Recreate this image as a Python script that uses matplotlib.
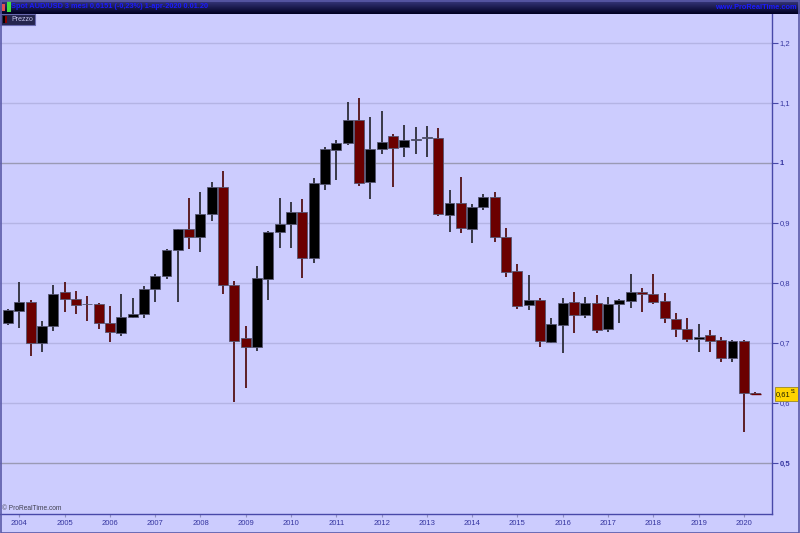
import numpy as np
import pandas as pd
import matplotlib
matplotlib.use("Agg")
import matplotlib.pyplot as plt
from matplotlib.patches import Rectangle

# quarterly candles, 2003Q4 .. 2020Q2
quarters = pd.period_range("2003Q4", "2020Q2", freq="Q")

opens = [0.733, 0.754, 0.769, 0.6995, 0.728, 0.785, 0.774, 0.7655, 0.7645, 0.734,
         0.717, 0.744, 0.748, 0.7895, 0.812, 0.855, 0.8895, 0.877, 0.915, 0.9595,
         0.796, 0.708, 0.693, 0.807, 0.885, 0.899, 0.918, 0.842, 0.9655, 1.0217,
         1.034, 1.0717, 0.968, 1.0228, 1.045, 1.027, 1.039, 1.041, 1.0417, 0.9128,
         0.933, 0.8895, 0.927, 0.944, 0.876, 0.820, 0.7628, 0.772, 0.701, 0.7295,
         0.768, 0.746, 0.7672, 0.7233, 0.7645, 0.7705, 0.7855, 0.782, 0.7705, 0.7405,
         0.7238, 0.7072, 0.7133, 0.705, 0.6755, 0.7033, 0.6166]
highs = [0.757, 0.802, 0.772, 0.737, 0.797, 0.801, 0.787, 0.778, 0.767, 0.762,
         0.782, 0.7745, 0.795, 0.815, 0.856, 0.890, 0.941, 0.951, 0.968, 0.987,
         0.804, 0.729, 0.828, 0.887, 0.942, 0.9345, 0.940, 0.9745, 1.026, 1.038,
         1.101, 1.108, 1.076, 1.086, 1.048, 1.063, 1.0595, 1.0617, 1.059, 0.955,
         0.976, 0.9317, 0.948, 0.951, 0.891, 0.831, 0.8128, 0.7755, 0.741, 0.7745,
         0.7845, 0.777, 0.780, 0.7762, 0.7733, 0.8145, 0.791, 0.8155, 0.783, 0.7495,
         0.741, 0.731, 0.7217, 0.7095, 0.705, 0.705, 0.6175]
lows = [0.730, 0.7255, 0.679, 0.6855, 0.720, 0.751, 0.748, 0.737, 0.724, 0.702,
        0.712, 0.741, 0.742, 0.769, 0.807, 0.769, 0.856, 0.852, 0.904, 0.781,
        0.602, 0.6255, 0.687, 0.772, 0.858, 0.858, 0.808, 0.833, 0.955, 0.972,
        1.0295, 0.962, 0.9395, 1.0145, 0.9595, 1.0105, 1.0145, 1.0105, 0.9117, 0.8855,
        0.883, 0.867, 0.922, 0.869, 0.8105, 0.757, 0.755, 0.693, 0.700, 0.684,
        0.716, 0.741, 0.7172, 0.7178, 0.734, 0.758, 0.751, 0.7655, 0.734, 0.7095,
        0.702, 0.6845, 0.6845, 0.669, 0.668, 0.552, 0.6145]
closes = [0.755, 0.769, 0.6995, 0.728, 0.782, 0.774, 0.763, 0.7645, 0.734, 0.718,
          0.744, 0.748, 0.7895, 0.812, 0.855, 0.8895, 0.877, 0.915, 0.9595, 0.796,
          0.704, 0.693, 0.808, 0.8855, 0.898, 0.918, 0.842, 0.966, 1.0228, 1.034,
          1.0717, 0.967, 1.024, 1.035, 1.0245, 1.038, 1.040, 1.043, 0.915, 0.933,
          0.891, 0.927, 0.944, 0.876, 0.818, 0.762, 0.772, 0.704, 0.731, 0.767,
          0.746, 0.767, 0.7212, 0.7645, 0.7712, 0.785, 0.781, 0.769, 0.741, 0.7238,
          0.706, 0.7105, 0.704, 0.6755, 0.7033, 0.6166, 0.6151]

last_price = 0.6151

BG = "#ccccfe"
AXC = "#4848a8"
TXT = "#3535a0"
UP = "#000000"
DOWN = "#6b0000"

W, H = 800, 533
fig = plt.figure(figsize=(8, 5.33), dpi=100, facecolor=BG)

# plot area in pixels: x 0..772, y 14..514
ax = fig.add_axes([0.0, 1 - 514 / H, 772 / W, 500 / H], facecolor=BG)

x = np.arange(len(quarters))
o = np.array(opens)
c = np.array(closes)
up = c >= o
colors = np.where(up, UP, DOWN)
wick_cols = np.where(up, "#202028", "#4a0000")

ax.vlines(x, lows, highs, colors=wick_cols, linewidth=1.2, zorder=3)
body_lo = np.minimum(o, c)
body_h = np.maximum(np.abs(c - o), 0.0012)
ax.bar(x, body_h, bottom=body_lo, width=0.88, color=colors,
       edgecolor="#555570", linewidth=0.6, zorder=4)

ax.set_xlim(-0.71, 67.49)
ax.set_ylim(0.415, 1.2483)

# grid
for lv in np.arange(0.5, 1.25, 0.1):
    major = abs(lv - 1.0) < 1e-6 or abs(lv - 0.5) < 1e-6
    ax.axhline(lv, color="#9a9ab4" if major else "#b4b4e4",
               linewidth=1.0, zorder=1)

yt = [0.5, 0.6, 0.7, 0.8, 0.9, 1.0, 1.1, 1.2]
ylabels = ["0,5", "0,6", "0,7", "0,8", "0,9", "1", "1,1", "1,2"]
ax.yaxis.tick_right()
ax.set_yticks(yt)
ax.set_yticklabels(ylabels)
for lab, v in zip(ax.get_yticklabels(), yt):
    if v in (0.5, 1.0):
        lab.set_fontweight("bold")
ax.tick_params(axis="y", direction="out", length=4, width=0.8, color=AXC,
               labelsize=5.5, labelcolor=TXT, pad=1.5)

year_idx = [i for i, q in enumerate(quarters) if q.quarter == 1]
ax.set_xticks(year_idx)
ax.set_xticklabels([str(quarters[i].year) for i in year_idx])
ax.tick_params(axis="x", direction="out", length=2, width=0.8, color="#9090c0",
               labelsize=5.5, labelcolor=TXT, pad=2)
for lab in ax.get_xticklabels() + ax.get_yticklabels():
    lab.set_family("Liberation Sans")

for s in ["top", "left"]:
    ax.spines[s].set_visible(False)
for s in ["right", "bottom"]:
    ax.spines[s].set_color(AXC)
    ax.spines[s].set_linewidth(1.0)

# last price marker
ax.hlines(last_price, 65.6, 66.5, colors=DOWN, linewidth=1.0, zorder=5)
ytr = ax.get_yaxis_transform()
ax.add_patch(Rectangle((775 / 772, last_price - 0.0115), 23 / 772, 0.023,
                       transform=ytr, fc="#ffd400", ec="#9a8a20", lw=0.6,
                       zorder=6, clip_on=False))
ax.text(775.5 / 772, last_price - 0.001, "0,61", transform=ytr,
        fontsize=5.4, family="Liberation Sans", color="#202000", va="center", ha="left",
        zorder=7, clip_on=False)
ax.text(790.3 / 772, last_price + 0.0045, "51", transform=ytr,
        fontsize=3.3, family="Liberation Sans", color="#202000", va="center", ha="left",
        zorder=7, clip_on=False)

# title bar with gradient
tb = fig.add_axes([0, 1 - 14 / H, 1, 14 / H])
grad = np.linspace(0, 1, 20).reshape(-1, 1)
top_c = np.array([0x3a, 0x3a, 0x80]) / 255
bot_c = np.array([0x00, 0x00, 0x22]) / 255
img = (top_c[None, None, :] * (1 - grad[:, :, None]) + bot_c[None, None, :] * grad[:, :, None])
tb.imshow(np.repeat(img, 2, axis=1), aspect="auto", extent=[0, 1, 0, 1])
tb.set_axis_off()
tb.text(11 / W, 0.5, "Spot AUD/USD 3 mesi 0,6151 (-0,23%) 1-apr-2020 0.01.20",
        transform=tb.transAxes, fontsize=5.3, fontweight="bold", family="Liberation Sans",
        color="#1a1aff", va="center", ha="left")
tb.text(797 / W, 0.45, "www.ProRealTime.com", transform=tb.transAxes,
        fontsize=5.3, fontweight="bold", family="Liberation Sans",
        color="#1a1aff", va="center", ha="right")
tb.add_patch(Rectangle((2 / W, 0.2), 3 / W, 0.5, transform=tb.transAxes,
                       fc="#e05050", ec="none"))
tb.add_patch(Rectangle((7 / W, 0.15), 4 / W, 0.75, transform=tb.transAxes,
                       fc="#40e040", ec="none"))

# legend tab "Prezzo"
fig.patches.append(Rectangle((0, 1 - 25 / H), 35 / W, 11 / H, transform=fig.transFigure,
                             fc="#25254e", ec="#6a6ab0", lw=0.8, zorder=10))
fig.patches.append(Rectangle((3 / W, 1 - 23 / H), 2 / W, 7 / H, transform=fig.transFigure,
                             fc="#000000", ec="none", zorder=11))
fig.patches.append(Rectangle((5 / W, 1 - 23 / H), 2 / W, 7 / H, transform=fig.transFigure,
                             fc="#8a0000", ec="none", zorder=11))
fig.text(11 / W, 1 - 19.5 / H, "Prezzo", fontsize=5, family="Liberation Sans",
         color="#c8c8f0", va="center", ha="left", zorder=12)

fig.text(2 / W, 1 - 509 / H, "© ProRealTime.com", fontsize=4.8, family="Liberation Sans",
         color="#404050", va="center", ha="left")

# outer frame
fig.patches.append(Rectangle((0.5 / W, 0.5 / H), 798.5 / W, 1 - 1.5 / H,
                             transform=fig.transFigure, fill=False, ec="#5a5aa8",
                             lw=1.2, zorder=20))

fig.savefig("out.png", dpi=100, facecolor=BG)
